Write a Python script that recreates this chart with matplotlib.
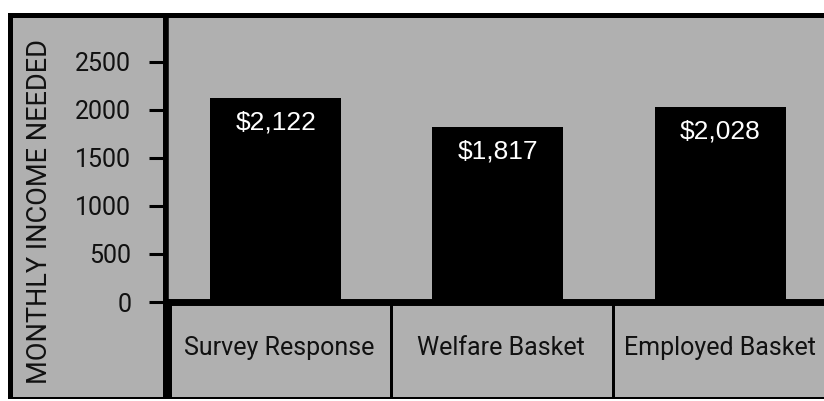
import matplotlib.pyplot as plt
from matplotlib.patches import Rectangle

categories = ["Survey Response", "Welfare Basket", "Employed Basket"]
values = [2122, 1817, 2028]
value_labels = ["$2,122", "$1,817", "$2,028"]
yticks = [0, 500, 1000, 1500, 2000, 2500]
ylabel = "MONTHLY INCOME NEEDED"

W, H = 824, 401
GRAY = "#b0b0b0"
LABEL_FONT = ["Roboto", "DejaVu Sans"]


def px(x0, y0, x1, y1):
    # pixel box (top-left origin) -> figure fraction [left, bottom, width, height]
    return [x0 / W, 1 - y1 / H, (x1 - x0) / W, (y1 - y0) / H]


def add_rect(x0, y0, x1, y1, color):
    b = px(x0, y0, x1, y1)
    fig.patches.append(Rectangle((b[0], b[1]), b[2], b[3], transform=fig.transFigure,
                                 facecolor=color, edgecolor="none", zorder=0))


fig = plt.figure(figsize=(W / 100, H / 100), dpi=100)
fig.patch.set_facecolor("white")

# black frame and grey panels
add_rect(8, 13, 830, 399, "black")
add_rect(13, 18, 163, 397, GRAY)

fig.text(40 / W, 1 - 211 / H, ylabel, rotation=90, ha="center", va="center",
         fontsize=19.5, color="#111111", family=LABEL_FONT)

# category boxes under the plot
boxes = [(172, 305, 390, 397), (393, 305, 612, 397), (615, 305, 830, 397)]
label_x = [279, 501, 720]
for (x0, y0, x1, y1), cat, cx in zip(boxes, categories, label_x):
    add_rect(x0, y0, x1, y1, GRAY)
    fig.text(cx / W, 1 - 348 / H, cat, ha="center", va="center",
             fontsize=18, color="#111111", family=LABEL_FONT)

ax = fig.add_axes(px(166, 18, 824, 302))
ax.set_zorder(5)
ax.set_facecolor(GRAY)
x = range(len(categories))
bars = ax.bar(x, values, width=0.59, color="black", zorder=2)
for bar, lab in zip(bars, value_labels):
    ax.annotate(lab, (bar.get_x() + bar.get_width() / 2, bar.get_height()),
                xytext=(0, -9), textcoords="offset points", ha="center", va="top",
                color="white", fontsize=19, family=["Liberation Sans", "DejaVu Sans"])

ax.set_xlim(-0.494, 2.468)
ax.set_ylim(0, 2955)
ax.set_yticks(yticks)
ax.set_yticklabels([str(t) for t in yticks], fontsize=18, family=LABEL_FONT,
                   color="#111111")
ax.tick_params(axis="y", length=12, width=2.2, pad=13, color="black")
ax.set_xticks([])
for s in ["top", "right"]:
    ax.spines[s].set_visible(False)
ax.spines["left"].set_linewidth(4)
ax.spines["bottom"].set_linewidth(5)

fig.savefig("out.png", dpi=100)
